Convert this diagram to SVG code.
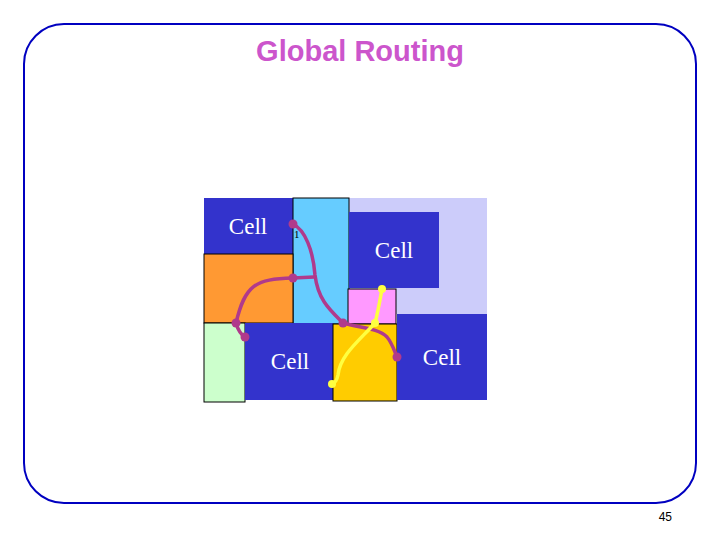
<svg xmlns="http://www.w3.org/2000/svg" width="720" height="540" viewBox="0 0 720 540">
<style>
.c{font-family:"Liberation Serif",serif;font-size:23px;fill:#fff}
.b{stroke:#000;stroke-width:1}
.n{fill:none;stroke:#b03a8c;stroke-width:3.5;stroke-linecap:round}
.y{fill:none;stroke:#ffff40;stroke-width:3.5;stroke-linecap:round}
.pd{fill:#b03a8c}
.yd{fill:#ffff40}
</style>
<rect x="24" y="24" width="672" height="479" rx="40" fill="#fff" stroke="#0000c0" stroke-width="2"/>
<text x="360" y="61" text-anchor="middle" font-family="Liberation Sans,Arial,sans-serif" font-size="29" font-weight="bold" fill="#cc55cc">Global Routing</text>
<text x="672" y="521" text-anchor="end" font-family="Liberation Sans,Arial,sans-serif" font-size="12">45</text>
<g id="bg"><rect x="349" y="198" width="138" height="116" fill="#ccccfa"/></g>
<g id="cell1"><rect x="204" y="198" width="89" height="56" fill="#3333cc"/><text class="c" x="248" y="234" text-anchor="middle">Cell</text></g>
<g id="chan1"><rect class="b" x="293" y="198" width="56" height="126" fill="#66ccff"/></g>
<g id="cell2"><rect x="349" y="212" width="90" height="76" fill="#3333cc"/><text class="c" x="394" y="258" text-anchor="middle">Cell</text></g>
<g id="orange"><rect class="b" x="204" y="254" width="89" height="69" fill="#ff9933"/></g>
<g id="green"><rect class="b" x="204" y="323" width="41" height="79" fill="#ccffcc"/></g>
<g id="cell3"><rect x="245" y="323" width="88" height="77" fill="#3333cc"/><text class="c" x="290" y="369" text-anchor="middle">Cell</text></g>
<g id="pink"><rect class="b" x="348" y="289" width="48" height="35" fill="#ff99ff"/></g>
<g id="gold"><rect class="b" x="333" y="324" width="64" height="77" fill="#ffcc00"/></g>
<g id="cell4"><rect x="397" y="314" width="90" height="86" fill="#3333cc"/><text class="c" x="442" y="365" text-anchor="middle">Cell</text></g>
<text x="294" y="238" font-family="Liberation Serif,serif" font-size="11">1</text>
<g id="connectors">
<path class="n" d="M293,224 C305,230 313,250 315,275 C318,300 330,310 343,323"/>
<path class="n" d="M293,278 L314,277"/>
<path class="n" d="M293,278 C255,279 245,285 236,323 C238,330 240,334 245,337"/>
<path class="n" d="M343,323 C360,328 378,328 387,337 C392,343 394,350 397,357"/>
<path class="y" d="M382,289 C380,300 378,312 375,323 C360,340 340,355 338,375 C337,380 335,383 332,384"/>
<circle class="pd" cx="293" cy="224" r="4.5"/><circle class="pd" cx="293" cy="278" r="4.5"/>
<circle class="pd" cx="236" cy="323" r="4.5"/><circle class="pd" cx="245" cy="337" r="4.5"/>
<circle class="pd" cx="343" cy="323" r="4.5"/><circle class="pd" cx="397" cy="357" r="4.5"/>
<circle class="yd" cx="382" cy="289" r="4"/><circle class="yd" cx="375" cy="323" r="4"/><circle class="yd" cx="332" cy="384" r="4"/>
</g>
</svg>
